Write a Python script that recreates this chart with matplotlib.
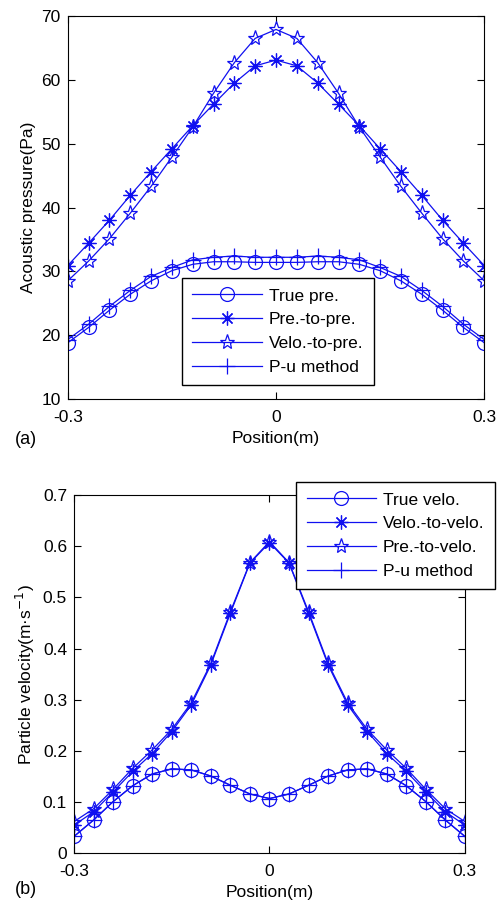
import numpy as np
import matplotlib
matplotlib.use("Agg")
import matplotlib.pyplot as plt

plt.rcParams['font.family'] = ['Liberation Sans', 'DejaVu Sans']
plt.rcParams['font.size'] = 12.5

# positions (m)
x = np.round(np.linspace(-0.3, 0.3, 21), 3)

# (a) acoustic pressure, half profile from -0.3 to 0 (symmetric)
true_pre_half = [18.8, 21.2, 23.9, 26.4, 28.5, 30.1, 31.1, 31.5, 31.5, 31.4, 31.4]
pre_to_pre_half = [30.9, 34.4, 38.0, 41.9, 45.6, 49.2, 52.8, 56.2, 59.5, 62.2, 63.1]
velo_to_pre_half = [28.5, 31.6, 35.1, 39.1, 43.3, 47.9, 52.6, 57.9, 62.7, 66.5, 67.9]
pu_pre_half = [19.3, 21.7, 24.5, 27.0, 29.2, 30.6, 31.8, 32.2, 32.4, 32.2, 32.2]

# (b) particle velocity
true_velo_half = [0.033, 0.065, 0.101, 0.132, 0.155, 0.165, 0.163, 0.151, 0.133, 0.116, 0.107]
velo_to_velo_half = [0.055, 0.081, 0.120, 0.160, 0.195, 0.238, 0.290, 0.368, 0.469, 0.567, 0.607]
pre_to_velo_half = [0.062, 0.087, 0.125, 0.166, 0.202, 0.242, 0.294, 0.371, 0.472, 0.568, 0.609]
pu_velo_half = [0.033, 0.065, 0.101, 0.132, 0.155, 0.165, 0.163, 0.151, 0.133, 0.116, 0.107]


def mirror(half):
    return np.array(half + half[-2::-1])


BLUE = "#1010f0"
ASTER = (8, 2, 0)


def draw(ax, series, labels):
    styles = [dict(marker="o", ms=10, mfc="none"),
              dict(marker=ASTER, ms=10),
              dict(marker="*", ms=11, mfc="none"),
              dict(marker="+", ms=11)]
    for s, lab, st in zip(series, labels, styles):
        ax.plot(x, mirror(s), color=BLUE, lw=0.9, mec=BLUE, mew=0.9,
                label=lab, **st)
    ax.set_xlim(-0.3, 0.3)
    ax.set_xticks([-0.3, 0, 0.3])
    ax.set_xticklabels(["-0.3", "0", "0.3"])
    ax.tick_params(direction="in", top=True, right=True, length=5, pad=5)
    ax.tick_params(axis="x", pad=8)
    ax.set_xlabel("Position(m)", labelpad=4)
    for sp in ax.spines.values():
        sp.set_linewidth(0.8)


LEG = dict(bbox_transform=None, borderaxespad=0, fancybox=False,
           edgecolor="black", framealpha=1, handlelength=4.0, labelspacing=0.5,
           borderpad=0.6, handletextpad=0.4)

fig = plt.figure(figsize=(4.98, 9.01), dpi=100)
LEG["bbox_transform"] = fig.transFigure

ax1 = fig.add_axes([0.136, 0.5572, 0.8365, 0.425])
draw(ax1, [true_pre_half, pre_to_pre_half, velo_to_pre_half, pu_pre_half],
     ["True pre.", "Pre.-to-pre.", "Velo.-to-pre.", "P-u method"])
ax1.set_ylim(10, 70)
ax1.set_yticks(np.arange(10, 71, 10))
ax1.set_ylabel("Acoustic pressure(Pa)", labelpad=4)
ax1.legend(loc="upper left", bbox_to_anchor=(181.7 / 498, 1 - 278 / 901), **LEG)
fig.text(15 / 498, 1 - 440 / 901, "(a)", fontsize=13, va="center")

ax2 = fig.add_axes([0.1486, 0.0529, 0.785, 0.3977])
draw(ax2, [true_velo_half, velo_to_velo_half, pre_to_velo_half, pu_velo_half],
     ["True velo.", "Velo.-to-velo.", "Pre.-to-velo.", "P-u method"])
ax2.set_ylim(0, 0.7)
ax2.set_yticks(np.arange(0, 0.71, 0.1))
ax2.set_yticklabels(["0", "0.1", "0.2", "0.3", "0.4", "0.5", "0.6", "0.7"])
ax2.set_ylabel("Particle velocity(m\u00b7s$^{-1}$)", labelpad=4)
ax2.legend(loc="upper right", bbox_to_anchor=(495 / 498, 1 - 482 / 901), **LEG)
fig.text(15 / 498, 1 - 890 / 901, "(b)", fontsize=13, va="center")

fig.savefig("out.png", dpi=100)
